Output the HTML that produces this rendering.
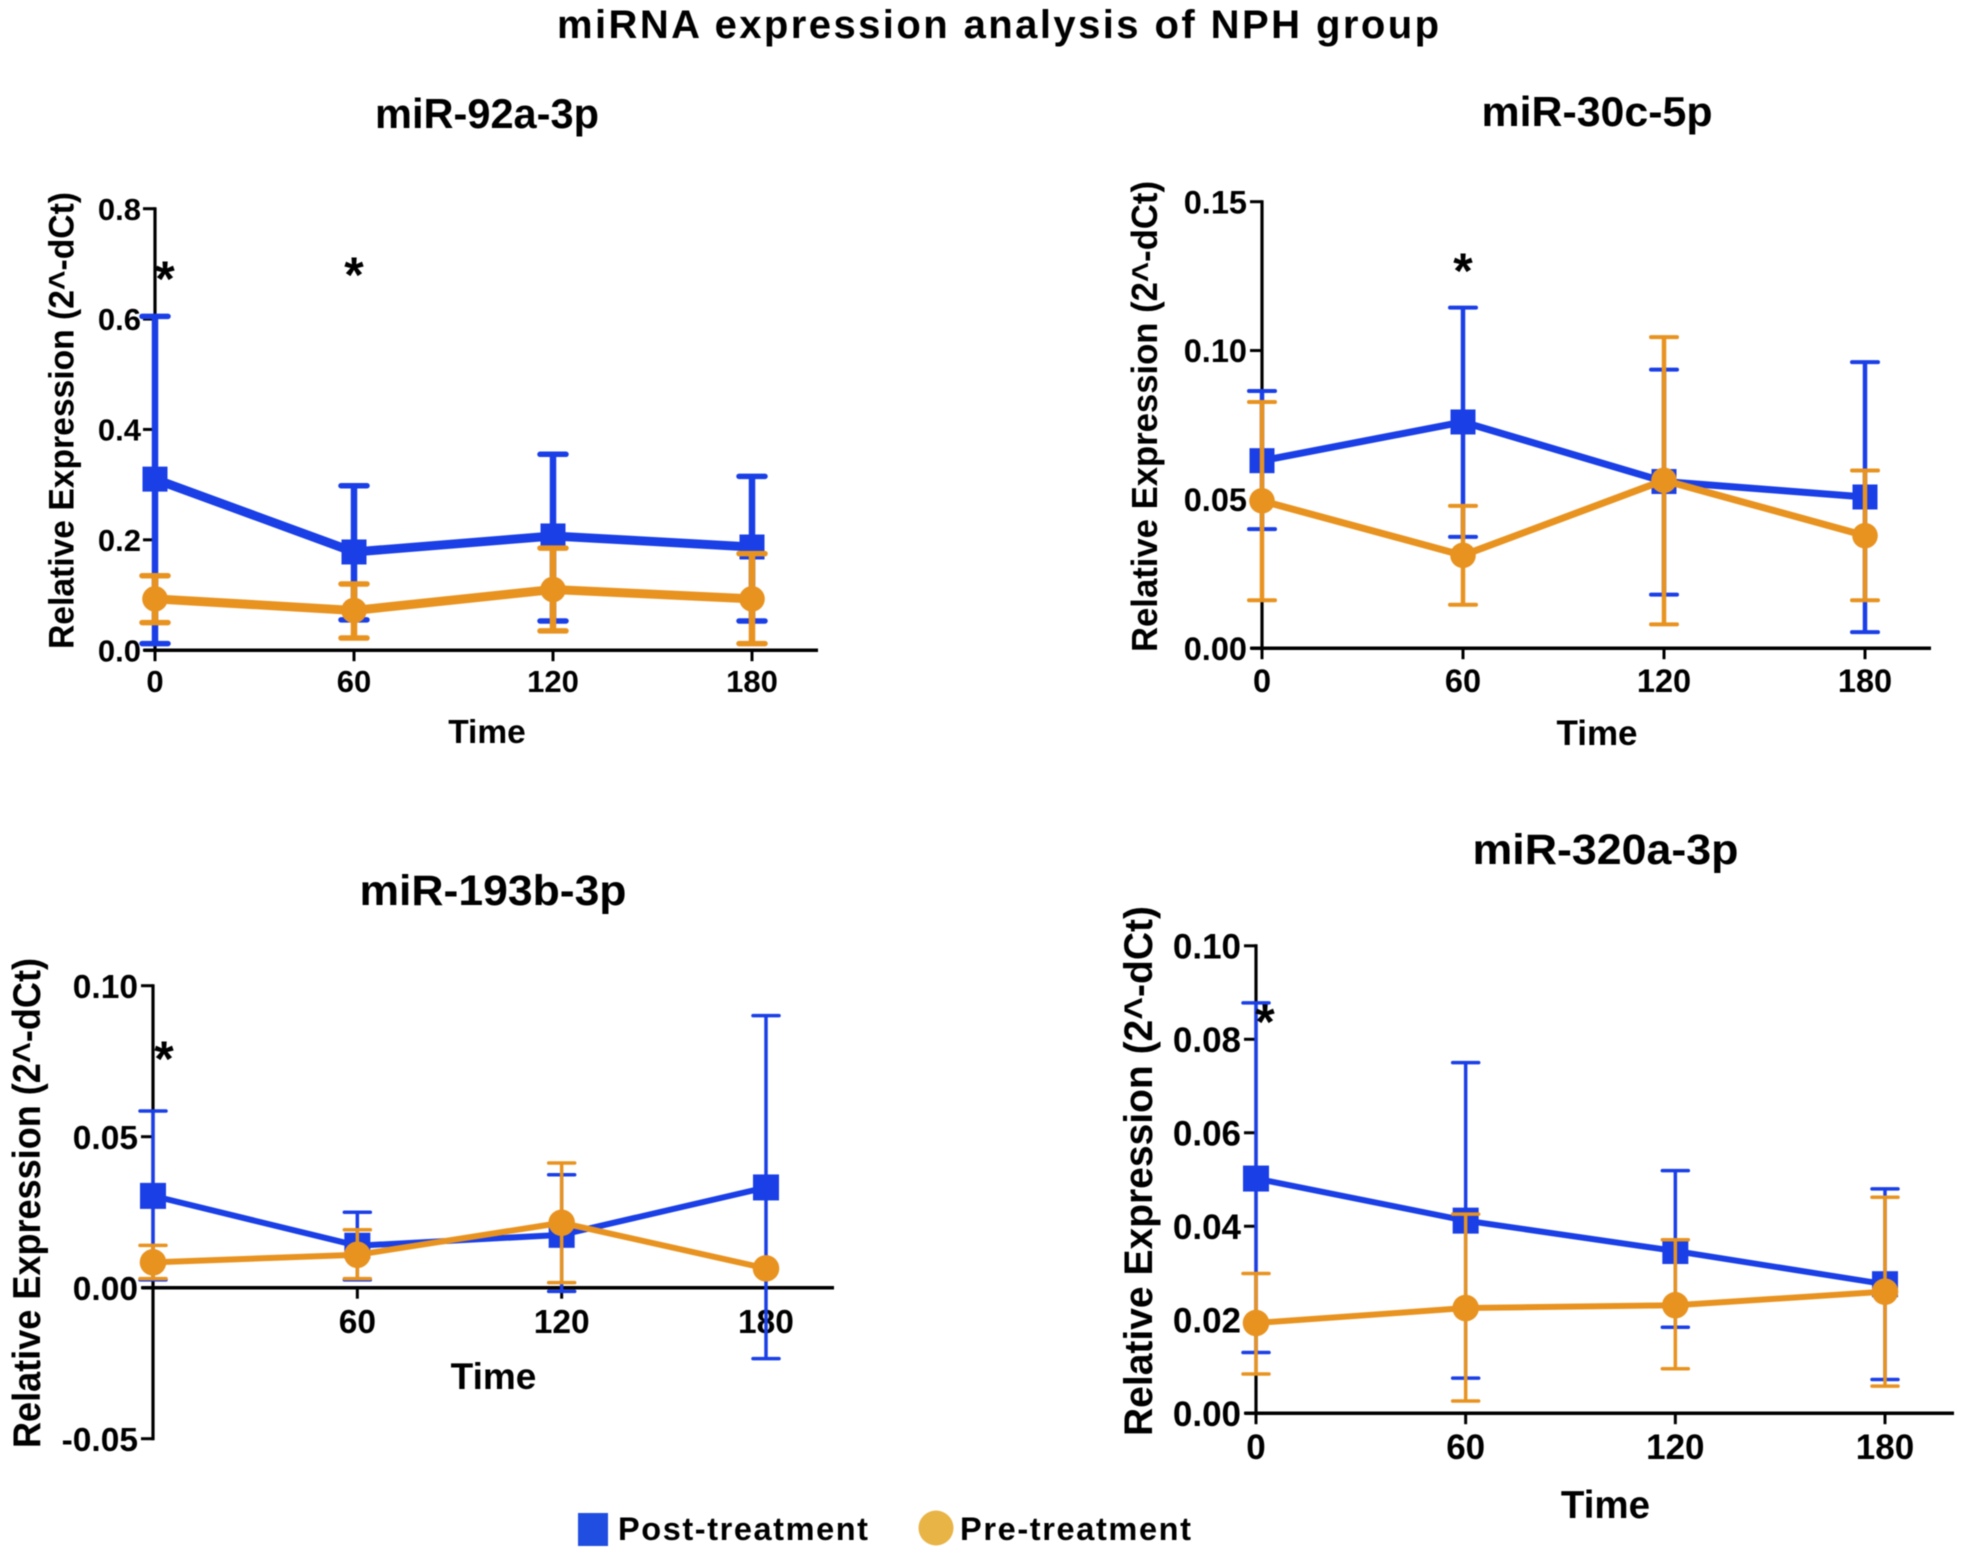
<!DOCTYPE html>
<html lang="en">
<head>
<meta charset="utf-8">
<title>miRNA expression analysis of NPH group</title>
<style>
html,body{margin:0;padding:0;background:#fff;}
#figure{display:block;width:1974px;height:1566px;filter:blur(0.6px);}
text{font-family:"Liberation Sans",sans-serif;font-weight:bold;fill:#000;}
</style>
</head>
<body>
<svg id="figure" xmlns="http://www.w3.org/2000/svg" width="1974" height="1566" viewBox="0 0 1974 1566">
  <rect x="0" y="0" width="1974" height="1566" fill="#ffffff"/>
  <text x="557" y="38" font-size="40" textLength="882" lengthAdjust="spacing">miRNA expression analysis of NPH group</text>

  <g id="panel-a">
    <text x="487" y="128" text-anchor="middle" font-size="42" textLength="224" lengthAdjust="spacingAndGlyphs">miR-92a-3p</text>
    <text transform="translate(73.5 649) rotate(-90)" font-size="35" textLength="457" lengthAdjust="spacingAndGlyphs">Relative Expression (2^-dCt)</text>
    <text x="487" y="743" text-anchor="middle" font-size="33.5">Time</text>
  </g>
  <g id="panel-b">
    <text x="1597" y="126" text-anchor="middle" font-size="42" textLength="231" lengthAdjust="spacingAndGlyphs">miR-30c-5p</text>
    <text transform="translate(1157 652) rotate(-90)" font-size="36" textLength="471" lengthAdjust="spacingAndGlyphs">Relative Expression (2^-dCt)</text>
    <text x="1597" y="745" text-anchor="middle" font-size="35">Time</text>
  </g>
  <g id="panel-c">
    <text x="493" y="905" text-anchor="middle" font-size="43" textLength="267" lengthAdjust="spacingAndGlyphs">miR-193b-3p</text>
    <text transform="translate(40 1448) rotate(-90)" font-size="39" textLength="490" lengthAdjust="spacingAndGlyphs">Relative Expression (2^-dCt)</text>
    <text x="493.5" y="1389" text-anchor="middle" font-size="37">Time</text>
  </g>
  <g id="panel-d">
    <text x="1605.5" y="864" text-anchor="middle" font-size="43" textLength="266" lengthAdjust="spacingAndGlyphs">miR-320a-3p</text>
    <text transform="translate(1152 1436) rotate(-90)" font-size="40" textLength="530" lengthAdjust="spacingAndGlyphs">Relative Expression (2^-dCt)</text>
    <text x="1605.5" y="1518" text-anchor="middle" font-size="38.5">Time</text>
  </g>

  <g>
    <g>
      <rect x="578" y="1513" width="30" height="33" fill="#1f4ee0"/>
      <text x="618" y="1540" font-size="32.5" textLength="250" lengthAdjust="spacing">Post-treatment</text>
    </g>
    <g>
      <ellipse cx="936" cy="1528" rx="17.5" ry="17.5" fill="#e8b445"/>
      <text x="960" y="1540" font-size="32.5" textLength="231" lengthAdjust="spacing">Pre-treatment</text>
    </g>
  </g>
</svg>

<script>
// ---- shared categories ----
const timeCategories = [0, 60, 120, 180];

// ---- miR-92a-3p ----
const a_yTicks = [0.0, 0.2, 0.4, 0.6, 0.8];
const a_yLabels = ["0.0", "0.2", "0.4", "0.6", "0.8"];
const a_xLabels = ["0", "60", "120", "180"];
const a_postMean = [0.31, 0.178, 0.207, 0.187];
const a_postUpper = [0.605, 0.298, 0.355, 0.315];
const a_postLower = [0.012, 0.055, 0.053, 0.053];
const a_preMean = [0.093, 0.072, 0.11, 0.093];
const a_preUpper = [0.135, 0.12, 0.185, 0.175];
const a_preLower = [0.05, 0.022, 0.035, 0.012];

// ---- miR-30c-5p ----
const b_yTicks = [0.0, 0.05, 0.10, 0.15];
const b_yLabels = ["0.00", "0.05", "0.10", "0.15"];
const b_xLabels = ["0", "60", "120", "180"];
const b_postMean = [0.063, 0.076, 0.056, 0.0508];
const b_postUpper = [0.0864, 0.1144, 0.0936, 0.0961];
const b_postLower = [0.04, 0.0374, 0.018, 0.0054];
const b_preMean = [0.0495, 0.0312, 0.0564, 0.0378];
const b_preUpper = [0.0827, 0.0478, 0.1045, 0.0597];
const b_preLower = [0.0161, 0.0146, 0.008, 0.0161];

// ---- miR-193b-3p ----
const c_yTicks = [-0.05, 0.0, 0.05, 0.10];
const c_yLabels = ["-0.05", "0.00", "0.05", "0.10"];
const c_xLabels = ["", "60", "120", "180"];
const c_postMean = [0.0304, 0.0139, 0.0175, 0.0332];
const c_postUpper = [0.0585, 0.025, 0.0374, 0.0901];
const c_postLower = [0.0026, 0.0026, -0.0012, -0.0235];
const c_preMean = [0.0084, 0.0109, 0.0215, 0.0064];
const c_preUpper = [0.014, 0.0192, 0.0413, 0.0064];
const c_preLower = [0.003, 0.003, 0.0017, 0.0064];

// ---- miR-320a-3p ----
const d_yTicks = [0.0, 0.02, 0.04, 0.06, 0.08, 0.10];
const d_yLabels = ["0.00", "0.02", "0.04", "0.06", "0.08", "0.10"];
const d_xLabels = ["0", "60", "120", "180"];
const d_postMean = [0.0502, 0.0412, 0.0347, 0.0276];
const d_postUpper = [0.0878, 0.075, 0.0519, 0.048];
const d_postLower = [0.013, 0.0075, 0.0184, 0.0072];
const d_preMean = [0.0193, 0.0225, 0.0231, 0.026];
const d_preUpper = [0.0299, 0.0426, 0.0371, 0.0462];
const d_preLower = [0.0084, 0.0026, 0.0095, 0.0058];

const BLUE = "#1a3fe6";
const ORANGE = "#e89320";
const SVGNS = "http://www.w3.org/2000/svg";

function make(tag, attrs, parent) {
  const node = document.createElementNS(SVGNS, tag);
  for (const key in attrs) node.setAttribute(key, attrs[key]);
  parent.appendChild(node);
  return node;
}

function drawPanel(id, layout, yTicks, yLabels, xLabels, series, stars) {
  const root = document.getElementById(id);
  const xScale = (t) => layout.xLeft + (t / 180) * (layout.xRight - layout.xLeft);
  const yScale = (v) => layout.yBottom - ((v - layout.yMin) / (layout.yMax - layout.yMin)) * (layout.yBottom - layout.yTop);
  const zeroY = yScale(0);

  const yAxis = make("line", { x1: layout.xLeft, x2: layout.xLeft, y1: yScale(layout.yMax) - 1.5, y2: yScale(layout.yMin) + 1.5, stroke: "#000", "stroke-width": 3.2 }, root);
  
  
  const xAxis = make("line", { x1: layout.xLeft - 11, x2: layout.xEnd, y1: zeroY, y2: zeroY, stroke: "#000", "stroke-width": 3.5 }, root);
  
  

  yTicks.forEach((v, i) => {
    const tick = make("line", { x1: layout.xLeft - 12, x2: layout.xLeft, y1: yScale(v), y2: yScale(v), stroke: "#000", "stroke-width": 3 }, root);
    
    
    const label = make("text", { x: layout.yLabelRight, y: yScale(v) + layout.tickFont * 0.36, "text-anchor": "end", "font-size": layout.tickFont }, root);
    label.textContent = yLabels[i];
    
    
  });

  timeCategories.forEach((t, i) => {
    const tick = make("line", { x1: xScale(t), x2: xScale(t), y1: zeroY, y2: zeroY + 11, stroke: "#000", "stroke-width": 3 }, root);
    
    
    if (xLabels[i] !== "") {
      const label = make("text", { x: xScale(t), y: layout.xLabelBase, "text-anchor": "middle", "font-size": layout.tickFont }, root);
      label.textContent = xLabels[i];
      
      
    }
  });

  series.forEach((s) => {
    const group = make("g", {}, root);
    
    
    timeCategories.forEach((t, i) => {
      if (s.upper[i] === s.mean[i] && s.lower[i] === s.mean[i]) return;
      const x = xScale(t);
      const stem = make("line", { x1: x, x2: x, y1: yScale(s.upper[i]), y2: yScale(s.lower[i]), stroke: s.color, "stroke-width": layout.errWidth }, group);
      
      
      const capTop = make("line", { x1: x - layout.cap, x2: x + layout.cap, y1: yScale(s.upper[i]), y2: yScale(s.upper[i]), stroke: s.color, "stroke-width": layout.capWidth, "stroke-linecap": "round" }, group);
      
      
      const capBottom = make("line", { x1: x - layout.cap, x2: x + layout.cap, y1: yScale(s.lower[i]), y2: yScale(s.lower[i]), stroke: s.color, "stroke-width": layout.capWidth, "stroke-linecap": "round" }, group);
      
      
    });
    const pts = timeCategories.map((t, i) => xScale(t) + "," + yScale(s.mean[i])).join(" ");
    const line = make("polyline", { points: pts, fill: "none", stroke: s.color, "stroke-width": layout.lineWidth, "stroke-linejoin": "round" }, group);
    
    
    timeCategories.forEach((t, i) => {
      const x = xScale(t), y = yScale(s.mean[i]);
      if (s.shape === "square") {
        const m = make("rect", { x: x - layout.marker, y: y - layout.marker, width: layout.marker * 2, height: layout.marker * 2, fill: s.color }, group);
        
        
      } else {
        const m = make("circle", { cx: x, cy: y, r: layout.marker + 0.3, fill: s.color }, group);
        
        
      }
    });
  });

  stars.forEach((st) => {
    const star = make("text", { x: xScale(st.t) + st.dx, y: st.y + 25, "text-anchor": "middle", "font-size": 50 }, root);
    star.textContent = "*";
    
    
  });
}

drawPanel("panel-a",
  { xLeft: 155, xRight: 752, xEnd: 818, yTop: 208.7, yBottom: 650.2, yMin: 0, yMax: 0.8, yLabelRight: 141, xLabelBase: 692, tickFont: 31, lineWidth: 9, errWidth: 6.5, capWidth: 5.5, cap: 13, marker: 12.5 },
  a_yTicks, a_yLabels, a_xLabels,
  [
    { name: "series-post-treatment", color: BLUE, shape: "square", mean: a_postMean, upper: a_postUpper, lower: a_postLower },
    { name: "series-pre-treatment", color: ORANGE, shape: "circle", mean: a_preMean, upper: a_preUpper, lower: a_preLower }
  ],
  [{ t: 0, dx: 10, y: 271 }, { t: 60, dx: 0, y: 267 }]);

drawPanel("panel-b",
  { xLeft: 1262, xRight: 1865, xEnd: 1931, yTop: 201.7, yBottom: 648.2, yMin: 0, yMax: 0.15, yLabelRight: 1247, xLabelBase: 692, tickFont: 32.5, lineWidth: 7, errWidth: 4.5, capWidth: 4, cap: 13, marker: 12.5 },
  b_yTicks, b_yLabels, b_xLabels,
  [
    { name: "series-post-treatment", color: BLUE, shape: "square", mean: b_postMean, upper: b_postUpper, lower: b_postLower },
    { name: "series-pre-treatment", color: ORANGE, shape: "circle", mean: b_preMean, upper: b_preUpper, lower: b_preLower }
  ],
  [{ t: 60, dx: 0, y: 263 }]);

drawPanel("panel-c",
  { xLeft: 153, xRight: 766, xEnd: 834, yTop: 985.7, yBottom: 1438.7, yMin: -0.05, yMax: 0.10, yLabelRight: 138, xLabelBase: 1333, tickFont: 33.5, lineWidth: 6, errWidth: 3.5, capWidth: 3.5, cap: 13, marker: 13 },
  c_yTicks, c_yLabels, c_xLabels,
  [
    { name: "series-post-treatment", color: BLUE, shape: "square", mean: c_postMean, upper: c_postUpper, lower: c_postLower },
    { name: "series-pre-treatment", color: ORANGE, shape: "circle", mean: c_preMean, upper: c_preUpper, lower: c_preLower }
  ],
  [{ t: 0, dx: 11, y: 1051 }]);

drawPanel("panel-d",
  { xLeft: 1256, xRight: 1885, xEnd: 1954, yTop: 945.8, yBottom: 1413.2, yMin: 0, yMax: 0.10, yLabelRight: 1241, xLabelBase: 1459, tickFont: 35, lineWidth: 6, errWidth: 3.5, capWidth: 3.5, cap: 13, marker: 13 },
  d_yTicks, d_yLabels, d_xLabels,
  [
    { name: "series-post-treatment", color: BLUE, shape: "square", mean: d_postMean, upper: d_postUpper, lower: d_postLower },
    { name: "series-pre-treatment", color: ORANGE, shape: "circle", mean: d_preMean, upper: d_preUpper, lower: d_preLower }
  ],
  [{ t: 0, dx: 9, y: 1014 }]);
</script>
</body>
</html>
